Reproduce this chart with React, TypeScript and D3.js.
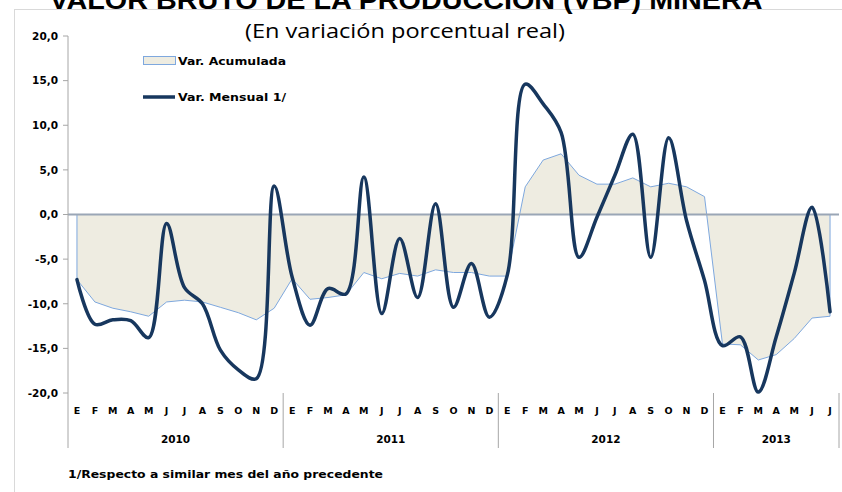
import React from "react";
import * as d3 from "d3";

const monthLetters = ["E", "F", "M", "A", "M", "J", "J", "A", "S", "O", "N", "D"];
const years = ["2010", "2011", "2012", "2013"];
const monthsPerYear = [12, 12, 12, 7];
const yTicks = [-20, -15, -10, -5, 0, 5, 10, 15, 20];

const varMensual = [
  -7.3, -12.3, -11.8, -11.9, -13.8, -1.0, -8.2, -10.0, -15.2, -17.4, -18.4, 3.2,
  -7.0, -12.4, -8.3, -8.9, 4.2, -11.1, -2.7, -9.3, 1.2, -10.4, -5.5, -11.5,
  -6.8, 14.6, 12.4, 9.2, -4.8, -0.3, 4.4, 9.0, -4.8, 8.6, -0.7, -7.4,
  -14.7, -13.7, -19.9, -13.7, -6.6, 0.8, -10.9,
];

const varAcumulada = [
  -7.3, -9.8, -10.5, -10.9, -11.4, -9.8, -9.6, -9.8, -10.4, -11.0, -11.8, -10.5,
  -7.2, -9.5, -9.3, -9.0, -6.5, -7.2, -6.6, -6.9, -6.2, -6.5, -6.5, -6.9,
  -6.9, 3.1, 6.1, 6.8, 4.4, 3.4, 3.4, 4.1, 3.1, 3.5, 3.1, 2.0,
  -14.5, -14.6, -16.3, -15.7, -13.9, -11.6, -11.4,
];

const categories: { month: string; year: string }[] = [];
years.forEach((yr, yi) => {
  for (let m = 0; m < monthsPerYear[yi]; m++) categories.push({ month: monthLetters[m], year: yr });
});

const W = 842;
const H = 492;
const left = 68;
const right = 839;
const top = 36;
const bottom = 393;

export default function App() {
  const x = d3
    .scaleBand<number>()
    .domain(d3.range(categories.length))
    .range([left, right])
    .padding(0);
  const bw = x.bandwidth();
  const cx = (i: number) => (x(i) as number) + bw / 2;
  const y = d3.scaleLinear().domain([-20, 20]).range([bottom, top]);

  const area = d3
    .area<number>()
    .x((_, i) => cx(i))
    .y0(y(0))
    .y1((d) => y(d))
    .curve(d3.curveLinear);

  const line = d3
    .line<number>()
    .x((_, i) => cx(i))
    .y((d) => y(d))
    .curve(d3.curveCatmullRom.alpha(0.5));

  const fmt = (v: number) => d3.format(".1f")(v).replace(".", ",").replace("−", "-");

  const sepIdx: number[] = [];
  let acc = 0;
  monthsPerYear.forEach((n) => {
    sepIdx.push(acc);
    acc += n;
  });
  const sepX = sepIdx.map((i) => x(i) as number).concat([right]);

  const labelFont = "'DejaVu Sans', Verdana, sans-serif";

  return (
    <svg
      width={W}
      height={H}
      style={{ position: "absolute", left: 0, top: 0, background: "#fff" }}
    >
      <rect x={0} y={0} width={W} height={H} fill="#fff" />
      <rect x={14.5} y={9.5} width={W} height={H} fill="none" stroke="#D9D9D9" strokeWidth={1} />
      <text
        x={406}
        y={9}
        textAnchor="middle"
        fontFamily="'Liberation Sans', Arial, sans-serif"
        fontWeight="bold"
        fontSize={26}
        textLength={713}
        lengthAdjust="spacingAndGlyphs"
        fill="#000"
      >
        VALOR BRUTO DE LA PRODUCCIÓN (VBP) MINERA
      </text>
      <text
        x={405}
        y={38}
        textAnchor="middle"
        fontFamily="'Open Sans', 'Noto Sans', sans-serif"
        fontSize={20}
        textLength={320}
        lengthAdjust="spacingAndGlyphs"
        fill="#000"
      >
        (En variación porcentual real)
      </text>

      <path d={area(varAcumulada) || ""} fill="#EEECE1" stroke="#7EA8DE" strokeWidth={1} />
      <line x1={left} x2={right} y1={y(0)} y2={y(0)} stroke="#9AA6B6" strokeWidth={1.8} />

      <line x1={left} x2={left} y1={top} y2={bottom} stroke="#A6A6A6" strokeWidth={1} />
      {yTicks.map((t) => (
        <g key={t}>
          <line x1={left - 5} x2={left} y1={y(t)} y2={y(t)} stroke="#A6A6A6" strokeWidth={1} />
          <text
            x={58}
            y={y(t)}
            dy="0.36em"
            textAnchor="end"
            fontFamily={labelFont}
            fontWeight="bold"
            fontSize={10.5}
            fill="#000"
          >
            {fmt(t)}
          </text>
        </g>
      ))}

      <path
        d={line(varMensual) || ""}
        fill="none"
        stroke="#17375E"
        strokeWidth={3.5}
        strokeLinejoin="round"
        strokeLinecap="round"
      />

      {sepX.map((sx, i) => (
        <line key={"s" + i} x1={sx} x2={sx} y1={bottom} y2={448} stroke="#A6A6A6" strokeWidth={1} />
      ))}
      {categories.map((c, i) => (
        <text
          key={"m" + i}
          x={cx(i)}
          y={411}
          dy="0.36em"
          textAnchor="middle"
          fontFamily={labelFont}
          fontWeight="bold"
          fontSize={9.5}
          fill="#000"
        >
          {c.month}
        </text>
      ))}
      {years.map((yr, i) => (
        <text
          key={yr}
          x={(sepX[i] + sepX[i + 1]) / 2}
          y={439}
          dy="0.36em"
          textAnchor="middle"
          fontFamily={labelFont}
          fontWeight="bold"
          fontSize={10.5}
          fill="#000"
        >
          {yr}
        </text>
      ))}

      <rect x={143.5} y={56.5} width={32} height={8} fill="#EEECE1" stroke="#7EA8DE" strokeWidth={1} />
      <text
        x={178}
        y={61}
        dy="0.36em"
        fontFamily={labelFont}
        fontWeight="bold"
        fontSize={10.5}
        textLength={108}
        lengthAdjust="spacingAndGlyphs"
        fill="#000"
      >
        Var. Acumulada
      </text>
      <line x1={143} x2={175} y1={97} y2={97} stroke="#17375E" strokeWidth={3.5} />
      <text
        x={178}
        y={97}
        dy="0.36em"
        fontFamily={labelFont}
        fontWeight="bold"
        fontSize={10.5}
        textLength={108}
        lengthAdjust="spacingAndGlyphs"
        fill="#000"
      >
        Var. Mensual 1/
      </text>

      <text
        x={68}
        y={474}
        dy="0.36em"
        fontFamily={labelFont}
        fontWeight="bold"
        fontSize={11}
        textLength={315}
        lengthAdjust="spacingAndGlyphs"
        fill="#000"
      >
        1/Respecto a similar mes del año precedente
      </text>
    </svg>
  );
}
